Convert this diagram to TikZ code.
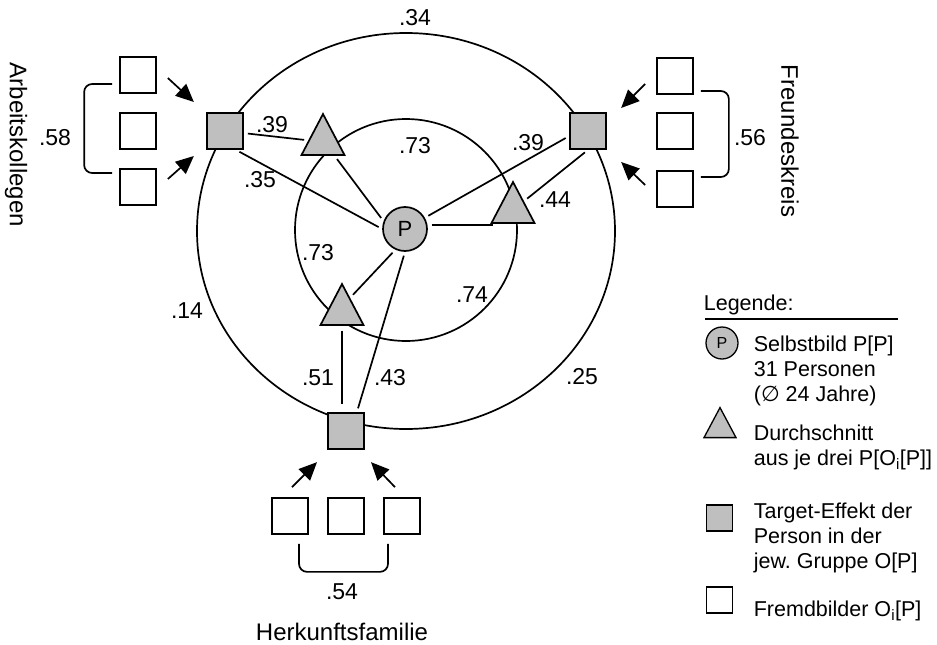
\documentclass[tikz,border=0pt]{standalone}
\usepackage{fontspec}
\setmainfont{Liberation Sans}
\newfontfamily\symfont{DejaVu Sans}
\usetikzlibrary{shapes.geometric,arrows.meta,calc}
\frenchspacing

\tikzset{
  self/.style={circle, draw, fill=gray!50, minimum size=44pt, inner sep=0pt,
    font=\fontsize{22}{26}\selectfont},
  mean/.style={isosceles triangle, isosceles triangle stretches,
    shape border rotate=90, draw, fill=gray!50, inner sep=0pt,
    minimum width=43pt, minimum height=41pt},
  target/.style={rectangle, draw, fill=gray!50, minimum size=36pt, inner sep=0pt},
  other/.style={rectangle, draw, fill=white, minimum size=36pt, inner sep=0pt},
  link/.style={shorten <=4pt, shorten >=4pt},
  arr/.style={-{Triangle[length=18pt,width=16pt]}},
  brace/.style={rounded corners=8pt},
  num/.style={font=\fontsize{23}{27}\selectfont, inner sep=0pt},
  lbl/.style={font=\fontsize{24}{28}\selectfont, inner sep=0pt},
  legtext/.style={font=\fontsize{21.5}{25}\selectfont, align=left,
    anchor=north west, inner sep=0pt},
}

\begin{document}
\begin{tikzpicture}[x=1pt, y=-1pt, line width=1.7pt]
\useasboundingbox (0,0) rectangle (937,645);

% the two rings
\draw (406,231) ellipse [x radius=209pt, y radius=198pt];
\draw (406,230) circle [radius=111pt];

% self image and group averages
\node[self] (p) at (405,229) {P};
\node[mean] (aktri) at (323,142) {};
\node[mean] (fktri) at (513,210) {};
\node[mean] (hftri) at (342,312) {};

% target effects
\node[target] (lsq) at (225,131) {};
\node[target] (rsq) at (588,131) {};
\node[target] (bsq) at (346,431) {};

% other ratings
\foreach \i/\y in {1/75,2/131,3/187}
  \node[other] (ak\i) at (138,\y) {};
\foreach \i/\y in {1/76,2/131,3/189}
  \node[other] (fk\i) at (675,\y) {};
\foreach \i/\x in {1/290,2/346,3/402}
  \node[other] (hf\i) at (\x,516) {};

% paths
\draw[link] (lsq) -- (aktri);
\draw[link] (lsq.-60) -- (p.180);
\draw[link] (aktri.-50) -- (p.160);
\draw[link] (p) -- (rsq.195);
\draw[link] (rsq.south) -- (fktri);
\draw[link] (p.10) -- (p.10 -| fktri.west);
\draw[link] (p.-115) -- (hftri.60);
\draw[link] (p.-90) -- (bsq.60);
\draw[shorten <=5pt, shorten >=8pt] (hftri.south) -- (hftri.south |- bsq.north);

% arrows into the target effects
\draw[arr] ([shift={(11,3)}]ak1.east) -- ++(26,24);
\draw[arr] ([shift={(11,-8)}]ak3.east) -- ++(26,-23);
\draw[arr] ([shift={(-11,8)}]fk1.west) -- ++(-24,24);
\draw[arr] ([shift={(-11,-4)}]fk3.west) -- ++(-24,-23);
\draw[arr] ([shift={(2,-10)}]hf1.north) -- ++(25,-25);
\draw[arr] ([shift={(-7,-10)}]hf3.north) -- ++(-24,-25);

% brackets
\draw[brace] ([shift={(-7,9)}]ak1.west) -- ++(-28,0) |- ([shift={(-7,-14)}]ak3.west);
\draw[brace] ([shift={(7,15)}]fk1.east) -- ++(28,0) |- ([shift={(7,-12)}]fk3.east);
\draw[brace] ([shift={(9,9)}]hf1.south) -- ++(0,28) -| ([shift={(-14,9)}]hf3.south);

% coefficients
\foreach \t/\x/\y [count=\k] in {.34/415/18, .39/272/125, .35/260/180,
    .73/415/146, .39/528/143, .44/555/200, .73/318/253, .74/472/295,
    .14/187/311, .51/318/378, .43/390/378, .25/582/377,
    .58/55/138, .56/750/138, .54/342/592}
  \node[num] (c\k) at (\x,\y) {\t};

% group names
\node[lbl, rotate=-90] (akname) at (16,145) {Arbeitskollegen};
\node[lbl, rotate=-90] (fkname) at (790,141) {Freundeskreis};
\node[lbl] (hfname) at (342,632) {Herkunftsfamilie};

% legend
\node[legtext, anchor=west] (leg) at (703,305) {Legende:};
\draw (705,319) -- (898,319);
\node[self, minimum size=32pt, line width=1.3pt,
  font=\fontsize{16}{19}\selectfont] (legp) at (722,343) {P};
\node[legtext] (legptext) at (753,335)
  {Selbstbild P[P]\\31 Personen\\({\symfont ∅} 24 Jahre)};
\node[mean, minimum width=32pt, minimum height=30pt, line width=1.3pt] (legtri) at (720,428) {};
\node[legtext] (legtritext) at (753,424)
  {Durchschnitt\\aus je drei P[O\textsubscript{i}[P]]};
\node[target, minimum size=26pt, line width=1.3pt] (legsq) at (719.5,518) {};
\node[legtext] (legsqtext) at (753,502)
  {Target-Effekt der\\Person in der\\jew. Gruppe O[P]};
\node[other, minimum size=26pt, line width=1.3pt] (legother) at (719.5,600) {};
\node[legtext] (legothertext) at (753,600)
  {Fremdbilder O\textsubscript{i}[P]};
\end{tikzpicture}
\end{document}
